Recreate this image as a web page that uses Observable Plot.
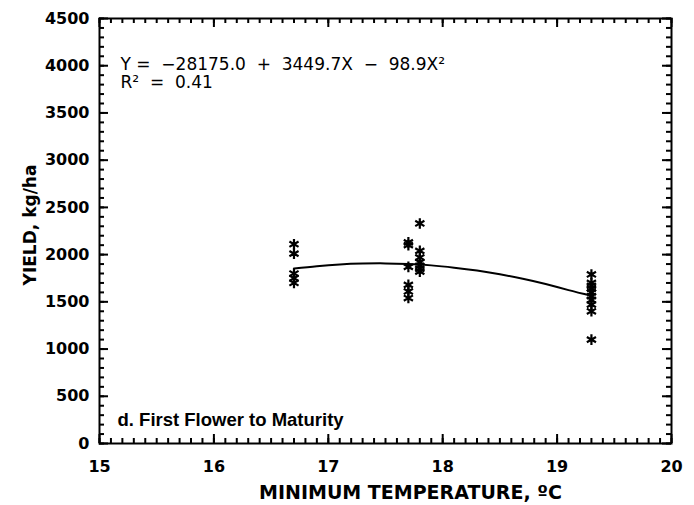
<!DOCTYPE html>
<html><head><meta charset="utf-8">
<script src="https://cdn.jsdelivr.net/npm/d3@7"></script>
<script src="https://cdn.jsdelivr.net/npm/@observablehq/plot@0.6"></script>
<style>body{margin:0;background:#fff}#chart{width:694px;height:505px}</style>
</head><body><div id="chart"></div>
<script>
// observed points (minimum temperature, yield)
const temperature = [16.7,16.7,16.7,16.7,16.7,
  17.7,17.7,17.7,17.7,17.7,17.7,
  17.8,17.8,17.8,17.8,17.8,17.8,17.8,
  19.3,19.3,19.3,19.3,19.3,19.3,19.3,19.3,19.3,19.3];
const yieldKg = [2110,2010,1800,1750,1700,
  2130,2100,1870,1680,1610,1540,
  2330,2040,1970,1920,1880,1850,1820,
  1790,1700,1670,1640,1600,1560,1520,1470,1400,1100];
// fitted curve
const fitTemp  = [16.7,16.9,17.1,17.3,17.5,17.7,17.9,18.1,18.3,18.5,18.7,18.9,19.1,19.3];
const fitYield = [1853,1878,1896,1905,1907,1900,1886,1862,1831,1791,1744,1688,1624,1565];
// axis ticks
const xMajor = [15,16,17,18,19,20];
const xMinor = d3.range(150,201).map(v=>v/10);
const yMajor = [0,500,1000,1500,2000,2500,3000,3500,4000,4500];
const yMinor = d3.range(0,46).map(v=>v*100);
const equationLines = ["Y =  −28175.0  +  3449.7X  −  98.9X²", "R²  =  0.41"];
const panelLabel = "d. First Flower to Maturity";
const xTitle = "MINIMUM TEMPERATURE, ºC";
const yTitle = "YIELD, kg/ha";

const W = 694, H = 505, mL = 99, mR = 23, mT = 18, mB = 62;
const fw = W - mL - mR, fh = H - mT - mB;

const points = temperature.map((t,i)=>({t, y: yieldKg[i]}));
const fit = fitTemp.map((t,i)=>({t, y: fitYield[i]}));
const tickFont = {fontFamily:"DejaVu Sans", fontWeight:"bold", fontSize:16};
const tk = {stroke:"#000", strokeWidth:2};

// inward ticks on all four sides
function inTicksX(ticks, len) {
  return [
    Plot.ruleX(ticks, {x: d => d, insetTop: fh - len, ...tk}),
    Plot.ruleX(ticks, {x: d => d, insetBottom: fh - len, ...tk})
  ];
}
function inTicksY(ticks, len) {
  return [
    Plot.ruleY(ticks, {y: d => d, insetRight: fw - len, ...tk}),
    Plot.ruleY(ticks, {y: d => d, insetLeft: fw - len, ...tk})
  ];
}

const chart = Plot.plot({
  width:W, height:H,
  marginLeft:mL, marginRight:mR, marginTop:mT, marginBottom:mB,
  x:{domain:[15,20]}, y:{domain:[0,4500]},
  style:{fontFamily:"DejaVu Sans", color:"#000", background:"#fff"},
  marks:[
    Plot.frame({fill:"none", stroke:"#000", strokeWidth:2}),
    ...inTicksX(xMinor, 5), ...inTicksX(xMajor, 9),
    ...inTicksY(yMinor, 5), ...inTicksY(yMajor, 9),
    // tick labels
    Plot.axisX({ticks:xMajor, anchor:"bottom", tickSize:0, tickPadding:17, tickFormat:"d", label:null, ...tickFont}),
    Plot.axisY({ticks:yMajor, anchor:"left", tickSize:0, tickPadding:10, tickFormat:"d", label:null, ...tickFont}),
    Plot.line(fit, {x:"t", y:"y", curve:"natural", stroke:"#000", strokeWidth:2}),
    Plot.dot(points, {x:"t", y:"y", symbol:"asterisk", r:5, stroke:"#000", strokeWidth:2.2}),
    Plot.text([equationLines[0]], {frameAnchor:"top-left", textAnchor:"start", lineAnchor:"middle", dx:21, dy:46, fontSize:17, fontFamily:"DejaVu Sans"}),
    Plot.text([equationLines[1]], {frameAnchor:"top-left", textAnchor:"start", lineAnchor:"middle", dx:21, dy:64, fontSize:17, fontFamily:"DejaVu Sans"}),
    Plot.text([panelLabel], {frameAnchor:"bottom-left", textAnchor:"start", lineAnchor:"middle", dx:18, dy:-23, fontSize:18.5, fontWeight:"bold", fontFamily:"Liberation Sans"}),
    Plot.text([xTitle], {frameAnchor:"bottom", textAnchor:"middle", lineAnchor:"middle", dy:49, dx:25, fontSize:19, fontWeight:"bold", fontFamily:"DejaVu Sans"}),
    Plot.text([yTitle], {frameAnchor:"left", textAnchor:"middle", rotate:-90, lineAnchor:"middle", dx:-69, dy:-6, fontSize:17, fontWeight:"bold", fontFamily:"DejaVu Sans"})
  ]
});
document.getElementById("chart").append(chart);
</script>
</body></html>
